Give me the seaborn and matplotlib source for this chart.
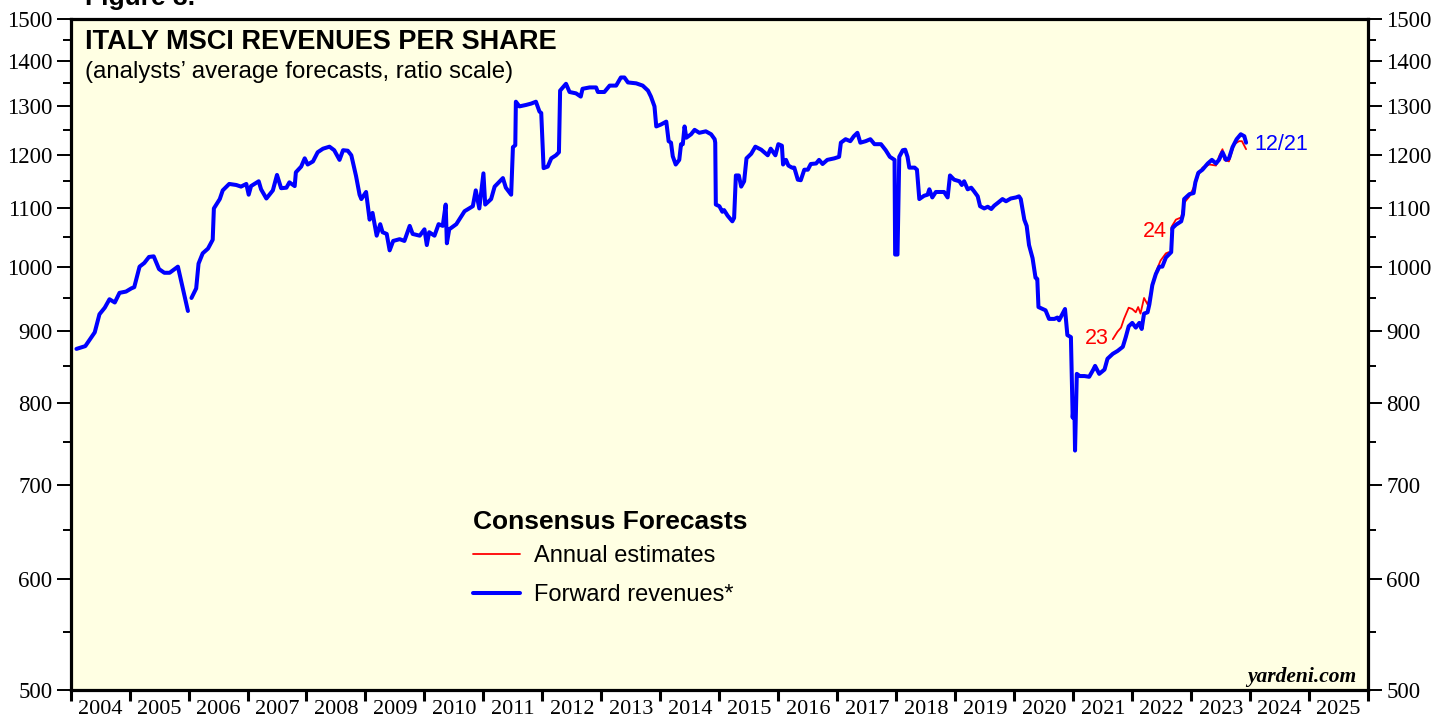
import numpy as np
import pandas as pd
import matplotlib
matplotlib.use("Agg")
import matplotlib.pyplot as plt
import seaborn as sns
from matplotlib.lines import Line2D
from matplotlib.ticker import FixedLocator, FixedFormatter, NullFormatter

# forward revenues (fractional year, value), first stretch up to end of 2005
fwd_years_a = [2004.10, 2004.25, 2004.41, 2004.49, 2004.58, 2004.66, 2004.75, 2004.83, 2004.94,
               2005.03, 2005.08, 2005.17, 2005.25, 2005.33, 2005.41, 2005.50, 2005.59, 2005.68,
               2005.82, 2005.99]
fwd_values_a = [874, 878, 898, 925, 935, 948, 943, 958, 960,
                965, 967, 1000, 1006, 1016, 1017, 996, 990, 990,
                1000, 930]

# forward revenues, from 2006 on
fwd_years_b = [2006.05, 2006.13, 2006.17, 2006.24, 2006.33, 2006.41, 2006.43, 2006.53, 2006.58,
               2006.69, 2006.81, 2006.89, 2006.98, 2007.02, 2007.06, 2007.19, 2007.23, 2007.32,
               2007.43, 2007.50, 2007.57, 2007.66, 2007.71, 2007.80, 2007.82, 2007.91, 2007.97,
               2008.02, 2008.11, 2008.19, 2008.28, 2008.39, 2008.47, 2008.56, 2008.62, 2008.70,
               2008.76, 2008.80, 2008.84, 2008.90, 2008.93, 2009.01, 2009.07, 2009.12, 2009.19,
               2009.25, 2009.29, 2009.36, 2009.41, 2009.47, 2009.58, 2009.66, 2009.75, 2009.80,
               2009.92, 2010.00, 2010.04, 2010.08, 2010.17, 2010.24, 2010.31, 2010.36, 2010.38,
               2010.42, 2010.54, 2010.68, 2010.82, 2010.87, 2010.93, 2011.00, 2011.03, 2011.13,
               2011.19, 2011.33, 2011.38, 2011.47, 2011.50, 2011.54, 2011.55, 2011.61, 2011.72,
               2011.81, 2011.89, 2011.95, 2011.98, 2012.02, 2012.09, 2012.15, 2012.23, 2012.28,
               2012.30, 2012.40, 2012.46, 2012.57, 2012.65, 2012.68, 2012.80, 2012.91, 2012.94,
               2013.05, 2013.14, 2013.25, 2013.33, 2013.39, 2013.45, 2013.59, 2013.70, 2013.79,
               2013.84, 2013.90, 2013.93, 2014.01, 2014.10, 2014.14, 2014.18, 2014.21, 2014.26,
               2014.32, 2014.35, 2014.38, 2014.41, 2014.44, 2014.52, 2014.58, 2014.66, 2014.77,
               2014.86, 2014.92, 2014.93, 2014.94, 2015.00, 2015.05, 2015.08, 2015.14, 2015.22,
               2015.25, 2015.28, 2015.33, 2015.37, 2015.42, 2015.46, 2015.54, 2015.61, 2015.71,
               2015.82, 2015.87, 2015.95, 2016.00, 2016.06, 2016.08, 2016.13, 2016.17, 2016.23,
               2016.27, 2016.33, 2016.38, 2016.44, 2016.50, 2016.55, 2016.64, 2016.69, 2016.75,
               2016.83, 2016.95, 2017.03, 2017.06, 2017.14, 2017.22, 2017.28, 2017.34, 2017.39,
               2017.48, 2017.56, 2017.63, 2017.74, 2017.82, 2017.89, 2017.97, 2017.98, 2018.02,
               2018.05, 2018.11, 2018.15, 2018.19, 2018.22, 2018.31, 2018.35, 2018.39, 2018.47,
               2018.53, 2018.56, 2018.61, 2018.67, 2018.76, 2018.81, 2018.87, 2018.91, 2018.98,
               2019.07, 2019.11, 2019.15, 2019.21, 2019.27, 2019.32, 2019.38, 2019.42, 2019.49,
               2019.55, 2019.61, 2019.66, 2019.72, 2019.80, 2019.86, 2019.94, 2020.03, 2020.08,
               2020.11, 2020.17, 2020.21, 2020.25, 2020.31, 2020.36, 2020.39, 2020.41, 2020.48,
               2020.53, 2020.59, 2020.68, 2020.73, 2020.76, 2020.82, 2020.86, 2020.90, 2020.96,
               2020.99, 2021.01, 2021.02, 2021.03, 2021.06, 2021.11, 2021.19, 2021.27, 2021.34,
               2021.37, 2021.44, 2021.53, 2021.58, 2021.67, 2021.75, 2021.84, 2021.89, 2021.94,
               2022.00, 2022.06, 2022.12, 2022.16, 2022.20, 2022.26, 2022.29, 2022.34, 2022.40,
               2022.46, 2022.51, 2022.57, 2022.66, 2022.68, 2022.74, 2022.83, 2022.86, 2022.88,
               2022.97, 2023.04, 2023.07, 2023.12, 2023.19, 2023.28, 2023.35, 2023.42, 2023.47,
               2023.53, 2023.59, 2023.64, 2023.70, 2023.77, 2023.84, 2023.90, 2023.93]
fwd_values_b = [950, 965, 1005, 1022, 1030, 1045, 1100, 1117, 1133,
                1145, 1143, 1140, 1145, 1125, 1141, 1150, 1135, 1118,
                1133, 1162, 1137, 1138, 1148, 1141, 1167, 1178, 1194,
                1182, 1188, 1206, 1213, 1217, 1210, 1191, 1210, 1209,
                1200, 1180, 1160, 1125, 1117, 1130, 1080, 1092, 1052,
                1072, 1058, 1055, 1027, 1043, 1046, 1043, 1069, 1055,
                1052, 1063, 1036, 1058, 1052, 1072, 1069, 1107, 1039,
                1063, 1072, 1095, 1104, 1133, 1100, 1165, 1107, 1117,
                1140, 1156, 1138, 1125, 1216, 1220, 1310, 1300, 1303,
                1306, 1310, 1289, 1286, 1175, 1178, 1194, 1200, 1206,
                1334, 1349, 1331, 1328, 1321, 1338, 1341, 1341, 1331,
                1331, 1345, 1345, 1363, 1363, 1352, 1350, 1345, 1334,
                1321, 1300, 1258, 1262, 1268, 1228, 1225, 1198, 1182,
                1191, 1222, 1222, 1258, 1235, 1242, 1251, 1245, 1248,
                1242, 1232, 1225, 1107, 1104, 1094, 1097, 1087, 1077,
                1083, 1161, 1161, 1140, 1150, 1194, 1203, 1217, 1211,
                1200, 1213, 1200, 1222, 1219, 1182, 1191, 1180, 1176,
                1176, 1153, 1152, 1172, 1172, 1183, 1184, 1191, 1183,
                1191, 1194, 1197, 1225, 1232, 1228, 1238, 1245, 1225,
                1228, 1232, 1222, 1222, 1210, 1197, 1191, 1020, 1020,
                1197, 1210, 1211, 1197, 1176, 1176, 1172, 1117, 1123,
                1125, 1135, 1120, 1130, 1130, 1130, 1120, 1161, 1153,
                1150, 1143, 1150, 1135, 1138, 1131, 1122, 1104, 1100,
                1103, 1099, 1105, 1110, 1117, 1113, 1118, 1120, 1122,
                1117, 1080, 1069, 1036, 1014, 982, 980, 936, 933,
                931, 918, 918, 920, 916, 926, 933, 894, 891,
                781, 800, 789, 740, 839, 836, 836, 835, 845,
                850, 839, 845, 860, 867, 871, 877, 891, 907,
                912, 905, 912, 903, 926, 928, 940, 970, 988,
                1000, 1000, 1015, 1024, 1065, 1071, 1077, 1089, 1117,
                1126, 1128, 1148, 1166, 1172, 1184, 1191, 1184, 1191,
                1206, 1191, 1194, 1216, 1232, 1242, 1238, 1225]

# annual estimates for 2023
est23_years = [2021.67, 2021.75, 2021.81, 2021.86, 2021.94, 2022.00, 2022.06, 2022.10, 2022.14,
               2022.20, 2022.26, 2022.31, 2022.37, 2022.42, 2022.48, 2022.57, 2022.62]
est23_values = [888, 899, 905, 918, 935, 933, 928, 936, 926,
                950, 940, 956, 982, 996, 1010, 1022, 1024]

# annual estimates for 2024
est24_years = [2022.66, 2022.67, 2022.74, 2022.83, 2022.88, 2022.97, 2023.07, 2023.12, 2023.19,
               2023.31, 2023.42, 2023.48, 2023.53, 2023.56, 2023.64, 2023.73, 2023.81, 2023.86,
               2023.93]
est24_values = [1062, 1068, 1080, 1084, 1110, 1122, 1145, 1162, 1176,
                1182, 1180, 1200, 1212, 1191, 1188, 1222, 1228, 1228,
                1212]

year_labels = [str(y) for y in range(2004, 2026)]
y_major = [500, 600, 700, 800, 900, 1000, 1100, 1200, 1300, 1400, 1500]
y_minor = [550, 650, 750, 850, 950, 1050, 1150, 1250, 1350, 1450]

BLUE = "#0000FF"
RED = "#FF0000"
BG = "#FFFFE3"

sns.set_style("ticks")
plt.rcParams["font.family"] = ["Liberation Sans", "DejaVu Sans"]
plt.rcParams["text.color"] = "black"
plt.rcParams["xtick.color"] = "black"
plt.rcParams["ytick.color"] = "black"
plt.rcParams["axes.labelcolor"] = "black"

fig = plt.figure(figsize=(14.34, 7.19), dpi=100)
ax = fig.add_axes([0.0492, 0.0403, 0.9049, 0.9333])
ax.set_facecolor(BG)

sns.lineplot(x=fwd_years_a, y=fwd_values_a, ax=ax, color=BLUE, linewidth=2.9, estimator=None)
sns.lineplot(x=fwd_years_b, y=fwd_values_b, ax=ax, color=BLUE, linewidth=2.9, estimator=None)
sns.lineplot(x=est23_years, y=est23_values, ax=ax, color=RED, linewidth=1.3, estimator=None)
sns.lineplot(x=est24_years, y=est24_values, ax=ax, color=RED, linewidth=1.3, estimator=None)
# blue drawn on top of the estimates, as in the original
ax.lines[1].set_zorder(3)
ax.lines[0].set_zorder(3)

ax.set_yscale("log")
ax.set_ylim(500, 1500)
ax.set_xlim(2004, 2026)

serif = ["Liberation Serif", "DejaVu Serif"]

ax.yaxis.set_major_locator(FixedLocator(y_major))
ax.yaxis.set_major_formatter(FixedFormatter([str(v) for v in y_major]))
ax.yaxis.set_minor_locator(FixedLocator(y_minor))
ax.yaxis.set_minor_formatter(NullFormatter())
ax.tick_params(axis="y", which="both", left=True, right=True, labelleft=True, labelright=True,
               direction="out", width=1.4, colors="black", labelsize=16.5, pad=3)
ax.tick_params(axis="y", which="major", length=10)
ax.tick_params(axis="y", which="minor", length=5.5)

ax.xaxis.set_major_locator(FixedLocator(list(range(2004, 2027))))
ax.xaxis.set_major_formatter(NullFormatter())
ax.xaxis.set_minor_locator(FixedLocator([y + 0.5 for y in range(2004, 2026)]))
ax.xaxis.set_minor_formatter(FixedFormatter(year_labels))
ax.tick_params(axis="x", which="major", direction="out", length=8, width=2.2, bottom=True, top=False)
ax.tick_params(axis="x", which="minor", length=0, labelsize=16, pad=7)

for lab in ax.get_yticklabels() + ax.get_xticklabels(minor=True):
    lab.set_family(serif)

for sp in ax.spines.values():
    sp.set_visible(True)
    sp.set_linewidth(2.3)
    sp.set_color("black")

ax.set_xlabel("")
ax.set_ylabel("")

# titles
ax.text(0.011, 0.985, "ITALY MSCI REVENUES PER SHARE", transform=ax.transAxes,
        fontsize=19.5, fontweight="bold", va="top", ha="left")
ax.text(0.011, 0.937, "(analysts\u2019 average forecasts, ratio scale)", transform=ax.transAxes,
        fontsize=17.3, va="top", ha="left")
fig.text(0.059, 1 - 5 / 719, "Figure 3.", fontsize=19, fontweight="bold", va="baseline", ha="left")

# line labels
ax.text(est23_years[0] - 0.06, 889, "23", color=RED, fontsize=15.5, ha="right", va="center")
ax.text(est24_years[0] - 0.08, 1060, "24", color=RED, fontsize=15.5, ha="right", va="center")
ax.text(fwd_years_b[-1] + 0.14, 1222, "12/21", color=BLUE, fontsize=15.5, ha="left", va="center")

ax.text(0.991, 0.02, "yardeni.com", transform=ax.transAxes, fontsize=15.5, fontweight="bold",
        style="italic", family=serif, ha="right", va="center")

handles = [Line2D([], [], color=RED, linewidth=1.3),
           Line2D([], [], color=BLUE, linewidth=2.9)]
leg = ax.legend(handles, ["Annual estimates", "Forward revenues*"], title="Consensus Forecasts",
                loc="upper left", bbox_to_anchor=(0.310, 0.268), frameon=False, fontsize=17,
                title_fontproperties={"weight": "bold", "size": 19}, alignment="left",
                handlelength=2.0, handletextpad=0.6, labelspacing=0.7, borderpad=0,
                borderaxespad=0)
leg._legend_box.sep = 8

fig.savefig("out.png", dpi=100, facecolor="white")
